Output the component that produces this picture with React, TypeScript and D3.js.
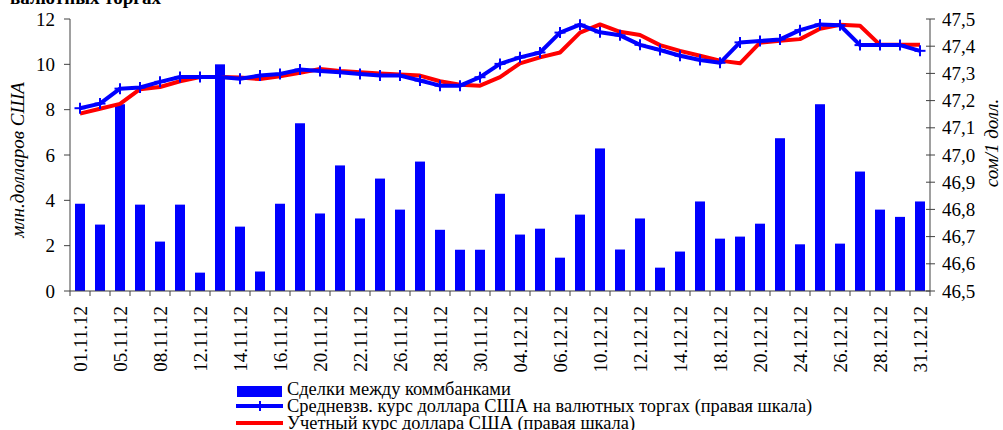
import React from "react";
import * as d3 from "d3";

const dates = [
  "01.11.12","02.11.12","05.11.12","06.11.12","08.11.12","09.11.12","12.11.12","13.11.12","14.11.12","15.11.12",
  "16.11.12","19.11.12","20.11.12","21.11.12","22.11.12","23.11.12","26.11.12","27.11.12","28.11.12","29.11.12",
  "30.11.12","03.12.12","04.12.12","05.12.12","06.12.12","07.12.12","10.12.12","11.12.12","12.12.12","13.12.12",
  "14.12.12","17.12.12","18.12.12","19.12.12","20.12.12","21.12.12","24.12.12","25.12.12","26.12.12","27.12.12",
  "28.12.12","29.12.12","31.12.12"
];

const deals = [
  3.85, 2.93, 8.24, 3.81, 2.18, 3.81, 0.81, 10.0, 2.84, 0.86,
  3.85, 7.4, 3.42, 5.54, 3.2, 4.96, 3.59, 5.71, 2.7, 1.82,
  1.82, 4.29, 2.49, 2.75, 1.47, 3.37, 6.29, 1.83, 3.2, 1.03,
  1.74, 3.95, 2.31, 2.4, 2.97, 6.74, 2.06, 8.24, 2.09, 5.27,
  3.59, 3.27, 3.95
];

const avgRate = [
  47.172, 47.189, 47.244, 47.248, 47.269, 47.287, 47.287, 47.287, 47.280, 47.292,
  47.298, 47.314, 47.309, 47.304, 47.298, 47.292, 47.292, 47.274, 47.255, 47.255,
  47.286, 47.335, 47.359, 47.377, 47.450, 47.479, 47.451, 47.440, 47.405, 47.386,
  47.365, 47.349, 47.339, 47.414, 47.419, 47.425, 47.459, 47.480, 47.477, 47.404,
  47.404, 47.404, 47.383
];

const officialRate = [
  47.152, 47.170, 47.188, 47.242, 47.250, 47.271, 47.287, 47.287, 47.285, 47.279,
  47.289, 47.302, 47.316, 47.309, 47.304, 47.300, 47.296, 47.292, 47.271, 47.258,
  47.255, 47.286, 47.337, 47.359, 47.377, 47.450, 47.480, 47.453, 47.441, 47.404,
  47.383, 47.365, 47.347, 47.337, 47.413, 47.420, 47.426, 47.464, 47.479, 47.475,
  47.405, 47.405, 47.405
];

const leftTicks = [0, 2, 4, 6, 8, 10, 12];
const rightTicks = [46.5, 46.6, 46.7, 46.8, 46.9, 47.0, 47.1, 47.2, 47.3, 47.4, 47.5];

const legendLabels = [
  "Сделки между коммбанками",
  "Средневзв. курс доллара США на валютных торгах (правая шкала)",
  "Учетный курс доллара США (правая шкала)"
];

const FONT = "'Liberation Serif', 'Times New Roman', serif";
const BLUE = "#0000FF";
const RED = "#FF0000";
const AXIS = "#808080";

export default function App() {
  const W = 1003, H = 430;
  const left = 70, right = 930, top = 19, bottom = 291;

  const x = d3.scaleBand<number>()
    .domain(d3.range(dates.length))
    .range([left, right])
    .paddingInner(0.5)
    .paddingOuter(0.25);
  const step = x.step();
  const yL = d3.scaleLinear().domain([0, 12]).range([bottom, top]);
  const yR = d3.scaleLinear().domain([46.5, 47.5]).range([bottom, top]);
  const cx = (i: number) => (x(i) as number) + x.bandwidth() / 2;

  const line = d3.line<number>().x((_, i) => cx(i)).y((d) => yR(d));
  const fmt = (v: number) => v.toFixed(1).replace(".", ",");

  const boundaries = d3.range(dates.length + 1).map((k) => left + k * step);

  return (
    <svg width={W} height={H} style={{ position: "absolute", left: 0, top: 0, background: "#fff", fontFamily: FONT }} fontFamily={FONT}>
      {/* cut title */}
      <text x={10} y={4} fontSize={19} fontWeight="bold" fill="#000">валютных торгах</text>

      {/* bars */}
      {deals.map((v, i) => (
        <rect key={"b" + i} x={x(i)} y={yL(v)} width={x.bandwidth()} height={yL(0) - yL(v)} fill={BLUE} />
      ))}

      {/* axes */}
      <line x1={left} x2={left} y1={top} y2={bottom} stroke={AXIS} strokeWidth={1.5} />
      <line x1={right} x2={right} y1={top} y2={bottom} stroke={AXIS} strokeWidth={1.5} />
      <line x1={left} x2={right} y1={bottom} y2={bottom} stroke="#404040" strokeWidth={1} />

      {leftTicks.map((t) => (
        <g key={"lt" + t}>
          <line x1={left - 6} x2={left} y1={yL(t)} y2={yL(t)} stroke="#404040" strokeWidth={1} />
          <text x={left - 15} y={yL(t) + 6.5} fontSize={19} textAnchor="end" fill="#000">{t}</text>
        </g>
      ))}
      {rightTicks.map((t) => (
        <g key={"rt" + t}>
          <line x1={right - 4} x2={right + 5} y1={yR(t)} y2={yR(t)} stroke="#404040" strokeWidth={1} />
          <text x={right + 12} y={yR(t) + 6.5} fontSize={19} textAnchor="start" fill="#000">{fmt(t)}</text>
        </g>
      ))}
      {boundaries.map((bx, k) => (
        <line key={"xt" + k} x1={bx} x2={bx} y1={bottom} y2={bottom + 5} stroke="#404040" strokeWidth={1} />
      ))}
      {dates.map((d, i) =>
        i % 2 === 0 ? (
          <text key={"xl" + i} transform={`translate(${cx(i) + 7},${bottom + 15}) rotate(-90)`} fontSize={19} textAnchor="end" fill="#000">{d}</text>
        ) : null
      )}

      {/* axis titles */}
      <text transform={`translate(24,160) rotate(-90)`} fontSize={19} fontStyle="italic" textAnchor="middle" fill="#000">млн.долларов США</text>
      <text transform={`translate(998,143) rotate(-90)`} fontSize={19} fontStyle="italic" textAnchor="middle" fill="#000">сом/1 долл.</text>

      {/* lines */}
      <path d={line(officialRate) as string} fill="none" stroke={RED} strokeWidth={4} strokeLinejoin="round" />
      <path d={line(avgRate) as string} fill="none" stroke={BLUE} strokeWidth={4} strokeLinejoin="round" />
      {avgRate.map((v, i) => (
        <g key={"m" + i} stroke={BLUE} strokeWidth={2}>
          <line x1={cx(i)} x2={cx(i)} y1={yR(v) - 5.5} y2={yR(v) + 5.5} />
          <line x1={cx(i) - 5.5} x2={cx(i) + 5.5} y1={yR(v)} y2={yR(v)} />
        </g>
      ))}

      {/* legend */}
      <rect x={237} y={386} width={45} height={11} fill={BLUE} />
      <text x={287} y={395} fontSize={18.4} fill="#000">{legendLabels[0]}</text>
      <line x1={236} x2={283} y1={406} y2={406} stroke={BLUE} strokeWidth={4} />
      <line x1={260} x2={260} y1={401} y2={411} stroke={BLUE} strokeWidth={2} />
      <text x={287} y={412} fontSize={18.4} fill="#000">{legendLabels[1]}</text>
      <line x1={236} x2={283} y1={423} y2={423} stroke={RED} strokeWidth={4} />
      <text x={287} y={429} fontSize={18.4} fill="#000">{legendLabels[2]}</text>
    </svg>
  );
}
